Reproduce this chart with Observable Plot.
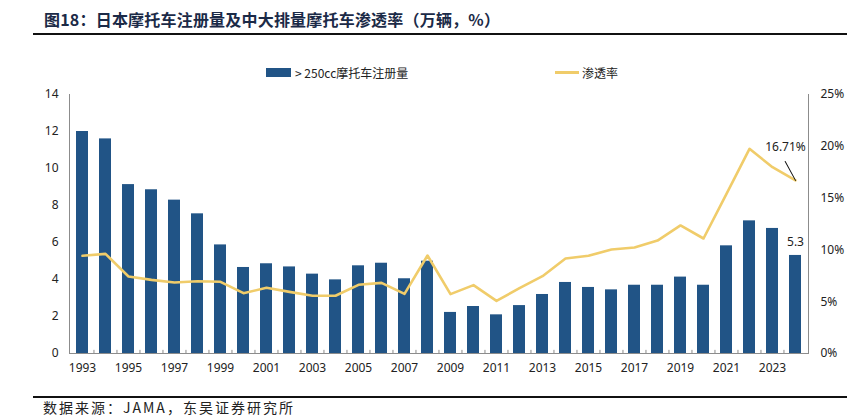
<!DOCTYPE html>
<html>
<head>
<meta charset="utf-8">
<script src="https://cdn.jsdelivr.net/npm/d3@7"></script>
<script src="https://cdn.jsdelivr.net/npm/@observablehq/plot@0.6"></script>
<style>
  html, body { margin: 0; padding: 0; background: #fff; }
  #wrap { position: relative; width: 847px; height: 420px; overflow: hidden; font-family: "Noto Sans CJK SC", "Noto Sans", sans-serif; }
  #title { position: absolute; left: 44px; top: 7px; font-size: 16px; font-weight: bold; color: #1b2a47; letter-spacing: 0.2px; white-space: nowrap; }
  #rule1 { position: absolute; left: 33px; top: 33px; width: 814px; height: 2px; background: #111; }
  #chart { position: absolute; left: 0; top: 36px; }
  #rule2 { position: absolute; left: 33px; top: 396px; width: 814px; height: 2px; background: #111; }
  #caption { position: absolute; left: 43px; top: 397px; font-size: 14px; color: #222; letter-spacing: 2px; white-space: nowrap; }
  .leg { position: absolute; top: 64px; font-size: 12px; color: #222; white-space: nowrap; display: flex; align-items: center; }
  .sw-bar { display: inline-block; width: 25px; height: 9px; background: #215486; margin-right: 4px; }
  .sw-line { display: inline-block; width: 24px; height: 2.5px; background: #F0CC6A; margin-right: 3px; }
</style>
</head>
<body>
<div id="wrap">
  <div id="title">图18：日本摩托车注册量及中大排量摩托车渗透率（万辆，%）</div>
  <div id="rule1"></div>
  <div id="chart"></div>
  <div class="leg" style="left:266px;"><span class="sw-bar"></span><span id="leg1"></span></div>
  <div class="leg" style="left:555px;"><span class="sw-line"></span><span id="leg2"></span></div>
  <div id="rule2"></div>
  <div id="caption">数据来源：JAMA，东吴证券研究所</div>
</div>
<script>
// ---- data ----
const years = [1993,1994,1995,1996,1997,1998,1999,2000,2001,2002,2003,2004,2005,2006,2007,2008,
               2009,2010,2011,2012,2013,2014,2015,2016,2017,2018,2019,2020,2021,2022,2023,2024];
const registrations = [12.0,11.6,9.13,8.85,8.29,7.55,5.87,4.65,4.85,4.68,4.29,3.98,4.74,4.88,4.04,4.99,
                       2.22,2.54,2.09,2.59,3.19,3.84,3.57,3.44,3.69,3.69,4.13,3.69,5.82,7.17,6.76,5.3];
const penetration = [9.43,9.62,7.43,7.11,6.85,6.98,6.92,5.82,6.34,5.95,5.57,5.57,6.63,6.82,5.76,9.46,
                     5.73,6.6,5.08,6.31,7.46,9.17,9.43,10.04,10.23,10.9,12.36,11.1,15.4,19.76,17.98,16.71];
const leftTicks = [0,2,4,6,8,10,12,14];
const rightTicks = [0,5,10,15,20,25];
const xTickLabels = years.filter(y => y % 2 === 1);
const seriesNames = ["> 250cc摩托车注册量", "渗透率"];

document.getElementById("leg1").textContent = seriesNames[0];
document.getElementById("leg2").textContent = seriesNames[1];

const yMax = 14, pMax = 25;
const toY = p => p * yMax / pMax;
const data = years.map((y, i) => ({year: y, reg: registrations[i], pct: penetration[i]}));
const last = data[data.length - 1];

const W = 847, H = 361, mL = 69, mR = 39;
const step = (W - mL - mR) / (years.length - 0.5 + 0.5);
const axisColor = "#8c8c8c";

const chart = Plot.plot({
  width: W, height: H,
  marginTop: 58, marginBottom: 44, marginLeft: mL, marginRight: mR,
  style: {fontFamily: "'Noto Sans', 'Noto Sans CJK SC', sans-serif", fontSize: "12px", color: "#222", background: "#fff"},
  x: {type: "band", domain: years, paddingInner: 0.5, paddingOuter: 0.25, align: 0.5},
  y: {domain: [0, yMax]},
  marks: [
    Plot.barY(data, {x: "year", y: "reg", fill: "#215486"}),
    Plot.ruleY([0], {stroke: axisColor, strokeWidth: 1}),
    Plot.frame({anchor: "left", stroke: axisColor}),
    Plot.frame({anchor: "right", stroke: axisColor}),
    Plot.ruleX(years.slice(1), {x: d => d, y1: 0, y2: 0.17, dx: -step / 2, stroke: axisColor}),
    Plot.line(data, {x: "year", y: d => toY(d.pct), stroke: "#F0CC6A", strokeWidth: 2.6, curve: "linear"}),
    Plot.text([last], {x: "year", y: "reg", text: d => d.reg.toFixed(1), dy: -13, fontSize: 12, fill: "#222"}),
    Plot.text([last], {x: "year", y: d => toY(d.pct), text: d => d.pct.toFixed(2) + "%", dx: -10, dy: -33, fontSize: 12, fill: "#222"}),
    Plot.vector([last], {x: "year", y: d => toY(d.pct), length: 21.6, rotate: -28.5, anchor: "start", stroke: "#111", strokeWidth: 1,
      shape: {draw(context, l) { context.moveTo(0, 0); context.lineTo(0, -l); }}}),
    Plot.axisY({ticks: leftTicks, tickSize: 0, tickPadding: 11, label: null, fontSize: 12}),
    Plot.axisY({anchor: "right", ticks: rightTicks.map(toY), tickFormat: d => Math.round(d * pMax / yMax) + "%", tickSize: 0, tickPadding: 12, label: null, fontSize: 12}),
    Plot.axisX({ticks: xTickLabels, tickFormat: d => String(d), tickSize: 0, tickPadding: 10, label: null, fontSize: 12})
  ]
});
document.getElementById("chart").appendChild(chart);
</script>
</body>
</html>
